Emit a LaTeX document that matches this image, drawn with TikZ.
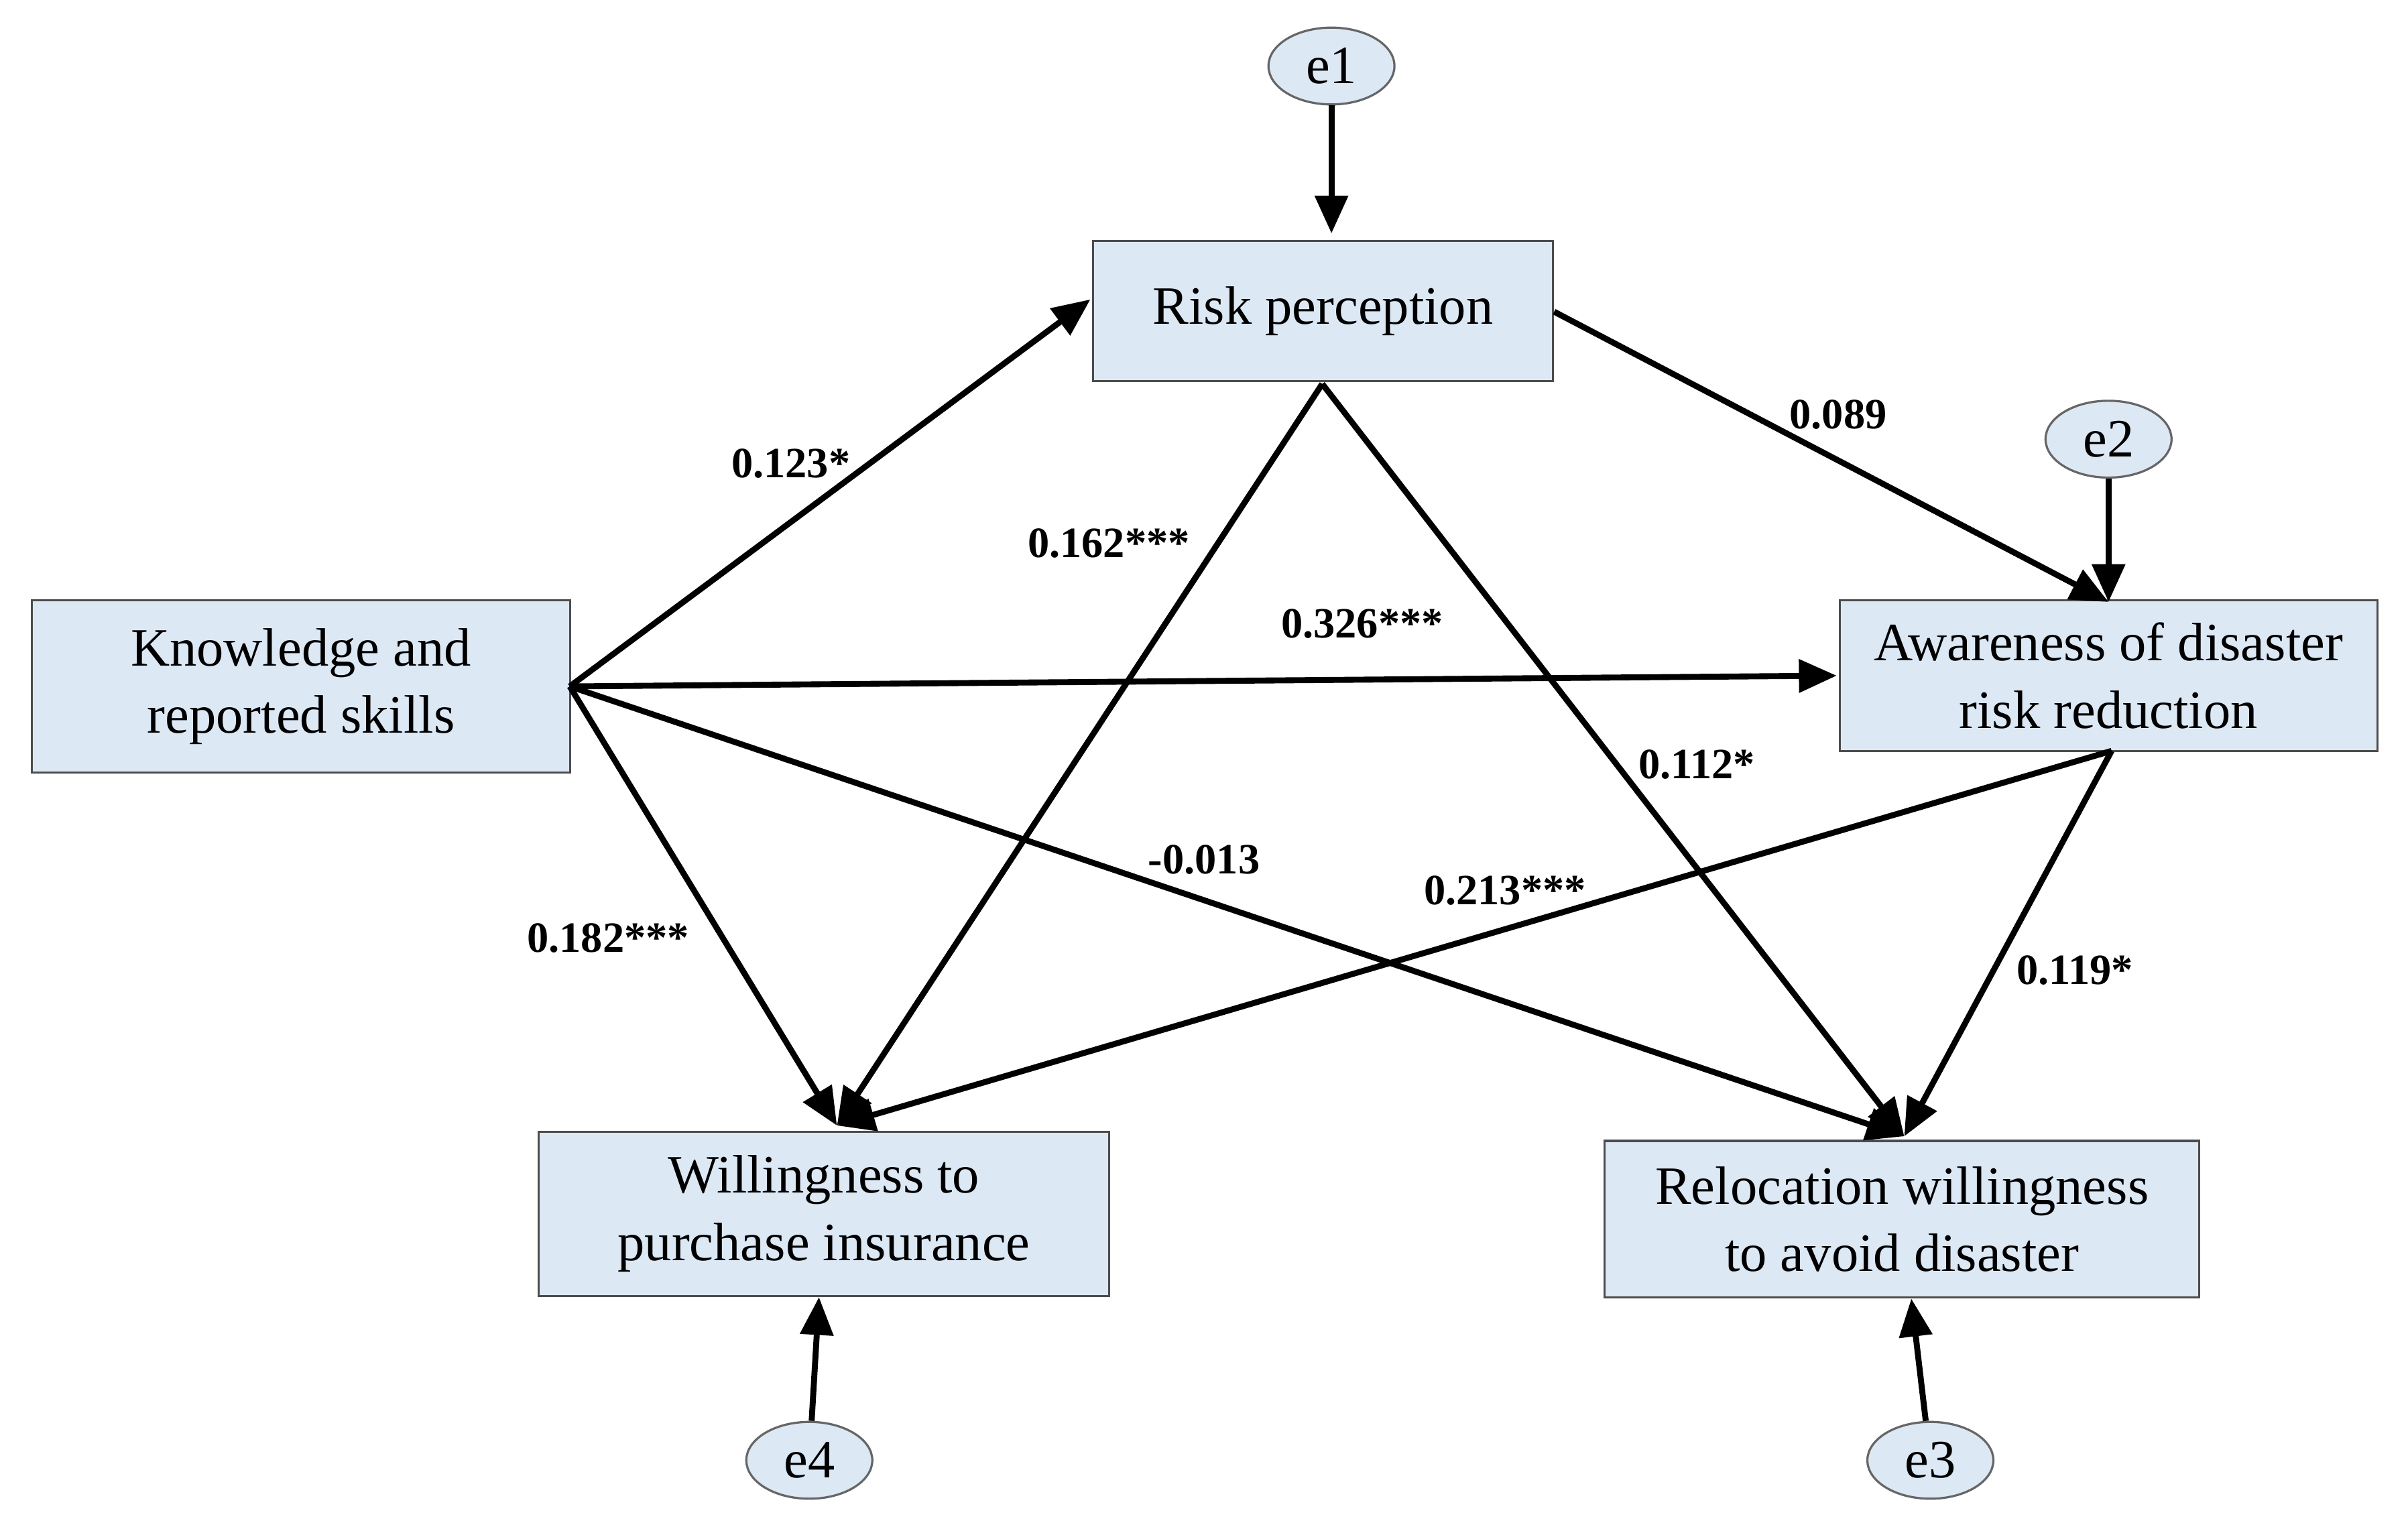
\documentclass[tikz,border=0pt]{standalone}
\usepackage{fontspec}
\setmainfont{Liberation Serif}
\usetikzlibrary{arrows.meta,shapes.geometric}
\definecolor{boxblue}{RGB}{221,232,245}
\tikzset{
  var/.style={draw=black!70, fill=boxblue, inner sep=0pt, align=center, font=\fontsize{10}{12.5}\selectfont},
  err/.style={draw=black!60, fill=boxblue, ellipse, minimum width=0.82cm, minimum height=0.5cm, inner sep=0pt, font=\fontsize{10}{12}\selectfont},
  path/.style={line width=1.1pt, -{Triangle[length=7pt,width=6pt]}},
  coef/.style={font=\bfseries\fontsize{8}{10}\selectfont}
}
\begin{document}
\begin{tikzpicture}[x=0.01cm, y=-0.01cm]
\useasboundingbox (0,0) rectangle (1568,997);

% variables
\node[var, minimum width=2.99cm, minimum height=0.91cm] (risk) at (861.5,202.5) {Risk perception};
\node[var, minimum width=3.5cm, minimum height=1.12cm] (know) at (196,447) {Knowledge and\\reported skills};
\node[var, minimum width=3.5cm, minimum height=0.98cm] (aware) at (1373,440) {Awareness of disaster\\risk reduction};
\node[var, minimum width=3.71cm, minimum height=1.07cm] (insur) at (536.5,790.5) {Willingness to\\purchase insurance};
\node[var, minimum width=3.87cm, minimum height=1.02cm] (reloc) at (1238.5,794) {Relocation willingness\\to avoid disaster};

% errors
\node[err] (e1) at (867,43) {e1};
\node[err] (e2) at (1373,286) {e2};
\node[err] (e4) at (527,951) {e4};
\node[err] (e3) at (1257,951) {e3};

% end points
\coordinate (k) at (371,447);
\coordinate (r) at (861,250);
\coordinate (a) at (1375,489);
\coordinate (insin) at (545,733);
\coordinate (relin) at (1240,740);
\coordinate (awin) at (1373,392);

% errors to variables
\draw[path] (e1) -- (867,152);
\draw[path] (e2) -- (awin);
\draw[path] (e4) -- (insur);
\draw[path] (e3) -- (reloc);

% paths
\draw[path] (k) -- (710,195);
\draw[path] (k) -- (1196,440);
\draw[path] (k) -- (insin);
\draw[path] (k) -- (relin);
\draw[path] (r) -- (insin);
\draw[path] (r) -- (relin);
\draw[path] (1012,203) -- (awin);
\draw[path] (a) -- (insin);
\draw[path] (a) -- (relin);

% coefficients
\node[coef] at (515,302) {0.123*};
\node[coef] at (722,354) {0.162***};
\node[coef] at (887,406) {0.326***};
\node[coef] at (1197,270) {0.089};
\node[coef] at (1105,498) {0.112*};
\node[coef] at (784,560) {-0.013};
\node[coef] at (980,580) {0.213***};
\node[coef] at (396,611) {0.182***};
\node[coef] at (1351,632) {0.119*};
\end{tikzpicture}
\end{document}
